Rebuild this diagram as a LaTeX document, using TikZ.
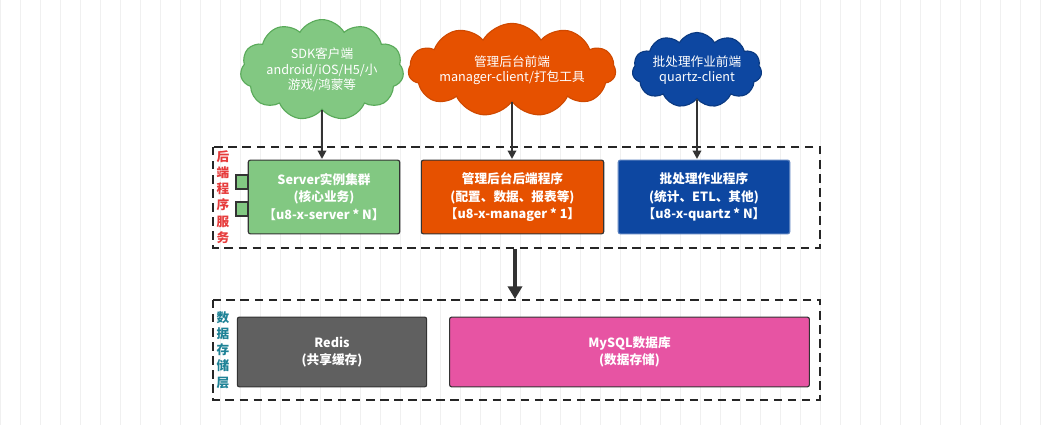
\documentclass[tikz,border=0pt]{standalone}
\usepackage{fontspec}
\setmainfont{Noto Sans CJK SC}
\usetikzlibrary{shapes.symbols,arrows.meta}
\definecolor{sdkgreen}{RGB}{130,200,130}
\definecolor{sdkline}{RGB}{90,170,90}
\definecolor{mgrorange}{RGB}{230,81,0}
\definecolor{qzblue}{RGB}{13,71,161}
\definecolor{redisgray}{RGB}{96,96,96}
\definecolor{mysqlpink}{RGB}{231,84,163}
\definecolor{sidered}{RGB}{230,60,60}
\definecolor{sideteal}{RGB}{30,130,150}
\tikzset{
  px/.style 2 args={minimum width=#1*0.7087pt,minimum height=#2*0.7087pt},
  cloudnode/.style={cloud,cloud puffs=11,cloud puff arc=120,aspect=2.2,draw,thick,text=white,font=\fontsize{9}{11}\selectfont,align=center,inner sep=0pt},
  app/.style={draw=black!80,thick,rounded corners=1.5pt,text=white,font=\bfseries\fontsize{9}{12.5}\selectfont,align=center},
  layer/.style={draw=black!85,thick,dash pattern=on 6pt off 4pt},
  feed/.style={draw=black!80,line width=1.4pt,-{Triangle[length=6pt,width=6pt]}},
  sidelabel/.style={font=\bfseries\fontsize{9}{11.5}\selectfont,align=center,inner sep=0pt}
}
\begin{document}
\begin{tikzpicture}[x=0.025cm,y=-0.025cm]
\useasboundingbox (0,0) rectangle (1048,425);
% faint grid
\draw[black!6,step=20] (0,0) grid (1048,425);

% layer frames
\draw[layer] (213,147) rectangle (820,248);
\draw[layer] (213,300) rectangle (820,400);
\node[sidelabel,text=sidered] (back) at (223,197) {后\\端\\程\\序\\服\\务};
\node[sidelabel,text=sideteal] (data) at (223,350) {数\\据\\存\\储\\层};

% clouds
\node[cloudnode,fill=sdkgreen,draw=sdkline,aspect=2,px={150}{66}] (sdk) at (322,70) {SDK客户端\\android/iOS/H5/小\\游戏/鸿蒙等};
\node[cloudnode,fill=mgrorange,draw=mgrorange!90!black,aspect=3.3,px={180}{50}] (mgrc) at (512,70) {管理后台前端\\manager-client/打包工具};
\node[cloudnode,fill=qzblue,draw=qzblue!80!black,px={110}{54}] (qzc) at (697,70) {批处理作业前端\\quartz-client};

% backend programs
\draw[draw=black!80,thick,fill=sdkgreen] (236,175) rectangle (248,189);
\draw[draw=black!80,thick,fill=sdkgreen] (236,202) rectangle (248,216);
\node[app,fill=sdkgreen,px={152}{74}] (server) at (324,197) {Server实例集群\\(核心业务)\\【u8-x-server * N】};
\node[app,fill=mgrorange,px={183}{74}] (manager) at (512.5,197) {管理后台后端程序\\(配置、数据、报表等)\\【u8-x-manager * 1】};
\node[app,fill=qzblue,draw=qzblue!70!white,px={172}{74}] (quartz) at (704,197) {批处理作业程序\\(统计、ETL、其他)\\【u8-x-quartz * N】};

% storage
\node[app,fill=redisgray,px={190}{70}] (redis) at (332,352) {Redis\\(共享缓存)};
\node[app,fill=mysqlpink,px={361}{70}] (mysql) at (629.5,352) {MySQL数据库\\(数据存储)};

% connectors
\coordinate (backtop1) at (322,159);
\coordinate (backtop2) at (512,159);
\coordinate (backtop3) at (697,159);
\coordinate (backbot) at (515,249);
\coordinate (datatop) at (515,299);
\draw[feed] (sdk.south) -- (backtop1);
\draw[feed] (mgrc.south) -- (backtop2);
\draw[feed] (qzc.south) -- (backtop3);
\draw[feed,line width=3pt,-{Triangle[length=9pt,width=10pt]}] (backbot) -- (datatop);
\end{tikzpicture}
\end{document}
